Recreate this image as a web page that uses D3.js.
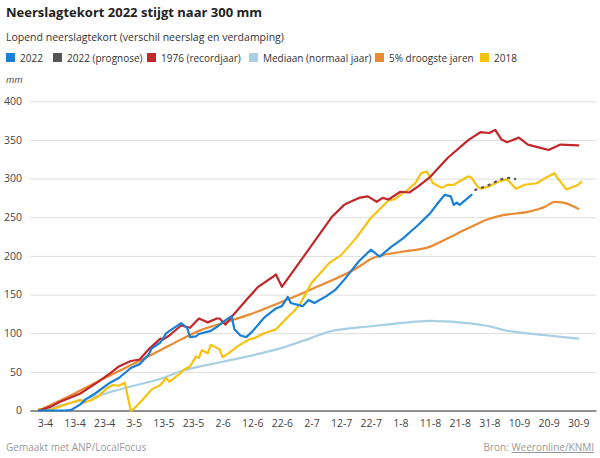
<!DOCTYPE html>
<html>
<head>
<meta charset="utf-8">
<script src="https://cdn.jsdelivr.net/npm/d3@7"></script>
<style>
  body { margin: 0; background: #fff; }
  svg text { font-family: "Open Sans", sans-serif; }
</style>
</head>
<body>
<div id="chart"></div>
<script>
// series: [dag-maand, mm]
const s2022 = [
  ["1-4",0],["5-4",0],["10-4",0],["12-4",1],["15-4",8],["17-4",15],["20-4",22],["25-4",36],
  ["28-4",42],["2-5",55],["5-5",60],["8-5",72],["9-5",80],["12-5",88],["14-5",100],["19-5",113],
  ["21-5",107],["22-5",95],["24-5",96],["25-5",99],["29-5",103],["31-5",108],["3-6",117],["5-6",122],
  ["6-6",105],["8-6",97],["10-6",95],["12-6",102],["16-6",120],["20-6",132],["22-6",135],["24-6",147],
  ["25-6",139],["29-6",135],["1-7",143],["3-7",139],["7-7",148],["10-7",156],["13-7",169],["18-7",193],
  ["22-7",208],["25-7",199],["29-7",212],["2-8",223],["4-8",230],["7-8",240],["11-8",255],["14-8",270],
  ["16-8",279],["18-8",277],["19-8",266],["20-8",269],["21-8",266],["25-8",279]
];
const sPrognose = [["26-8",285],["31-8",292],["4-9",299],["7-9",301],["9-9",299]];
const s1976 = [
  ["1-4",0],["5-4",5],["8-4",11],["15-4",22],["21-4",37],["25-4",48],["28-4",57],["2-5",64],
  ["5-5",66],["8-5",79],["12-5",93],["13-5",92],["15-5",97],["19-5",110],["22-5",107],["25-5",119],
  ["28-5",114],["31-5",119],["1-6",119],["3-6",111],["5-6",121],["10-6",143],["14-6",160],["19-6",173],
  ["20-6",176],["22-6",160],["1-7",208],["9-7",251],["13-7",266],["14-7",268],["18-7",275],["21-7",277],
  ["24-7",270],["26-7",275],["28-7",273],["1-8",283],["4-8",282],["7-8",290],["11-8",302],["17-8",327],
  ["24-8",350],["28-8",360],["31-8",359],["2-9",363],["4-9",351],["6-9",347],["10-9",353],["13-9",344],
  ["17-9",340],["20-9",337],["24-9",344],["30-9",343]
];
const sMediaan = [
  ["1-4",0],["15-4",13],["1-5",30],["12-5",41],["20-5",52],["2-6",63],["22-6",81],["2-7",94],
  ["8-7",102],["22-7",109],["1-8",113],["11-8",116],["21-8",114],["31-8",109],["5-9",104],["10-9",101],
  ["20-9",97],["30-9",93]
];
const sDroog = [
  ["1-4",0],["11-4",18],["20-4",36],["28-4",51],["9-5",72],["12-5",78],["19-5",92],["25-5",103],
  ["1-6",112],["11-6",124],["21-6",139],["2-7",157],["18-7",186],["22-7",196],["26-7",201],["1-8",205],
  ["11-8",212],["16-8",221],["24-8",236],["31-8",248],["5-9",253],["13-9",257],["19-9",264],["22-9",270],
  ["25-9",269],["30-9",261]
];
const s2018 = [
  ["1-4",2],["3-4",0],["5-4",1],["8-4",5],["11-4",9],["15-4",14],["16-4",10],["19-4",14],["21-4",18],
  ["24-4",29],["26-4",33],["28-4",32],["30-4",36],["2-5",0],["3-5",2],["6-5",14],["9-5",27],["12-5",33],
  ["14-5",42],["15-5",37],["19-5",49],["20-5",53],["22-5",57],["24-5",70],["25-5",68],["26-5",78],
  ["28-5",74],["29-5",85],["31-5",81],["1-6",79],["2-6",69],["4-6",74],["7-6",83],["11-6",92],["13-6",94],
  ["16-6",100],["20-6",105],["22-6",113],["24-6",121],["26-6",128],["28-6",137],["1-7",158],["2-7",165],
  ["8-7",191],["12-7",201],["17-7",223],["22-7",249],["28-7",272],["30-7",273],["3-8",284],["6-8",294],
  ["8-8",307],["10-8",309],["12-8",294],["13-8",292],["15-8",288],["17-8",292],["19-8",292],["24-8",303],
  ["25-8",301],["27-8",290],["28-8",287],["31-8",290],["3-9",296],["6-9",299],["9-9",287],["12-9",292],
  ["16-9",294],["19-9",301],["22-9",307],["23-9",301],["26-9",286],["30-9",292],["1-10",296]
];

const legendLabels = ["2022","2022 (prognose)","1976 (recordjaar)","Mediaan (normaal jaar)","5% droogste jaren","2018"];
const legendColors = ["#1a7fd6","#555555","#c0282c","#a8cfe2","#ea8a33","#f7c20f"];
const xTicks = ["3-4","13-4","23-4","3-5","13-5","23-5","2-6","12-6","22-6","2-7","12-7","22-7","1-8","11-8","21-8","31-8","10-9","20-9","30-9"];
const yTicks = [0,50,100,150,200,250,300,350,400];

const parse = s => { const [d,m] = s.split("-").map(Number); return new Date(2022, m-1, d); };

const W = 600, H = 458;
const svg = d3.select("#chart").append("svg").attr("width", W).attr("height", H);

const x = d3.scaleTime()
  .domain([new Date(2022,2,29), new Date(2022,9,6)])
  .range([30, 596]);
const y = d3.scaleLinear().domain([0,400]).range([410.5, 101.3]);

// titel
svg.append("text").attr("x", 6).attr("y", 17)
  .attr("font-size", 13).attr("font-weight", 700).attr("fill", "#222")
  .text("Neerslagtekort 2022 stijgt naar 300 mm");
svg.append("text").attr("x", 6).attr("y", 41)
  .attr("font-size", 10.5).attr("fill", "#333")
  .text("Lopend neerslagtekort (verschil neerslag en verdamping)");

// legenda
const legendX = [6, 53, 147, 249, 375, 480];
const lg = svg.append("g");
legendLabels.forEach((l, i) => {
  lg.append("rect").attr("x", legendX[i]).attr("y", 53).attr("width", 9).attr("height", 9)
    .attr("fill", legendColors[i]);
  lg.append("text").attr("x", legendX[i] + 14).attr("y", 61.5)
    .attr("font-size", 10).attr("fill", "#333").text(l);
});

svg.append("text").attr("x", 6).attr("y", 83)
  .attr("font-size", 9.5).attr("font-style", "italic").attr("fill", "#444").text("mm");

// grid + y-as
const yAxis = d3.axisLeft(y).tickValues(yTicks).tickSize(-566).tickPadding(8);
svg.append("g").attr("transform", "translate(30,0)").call(yAxis)
  .call(g => g.select(".domain").remove())
  .call(g => g.selectAll(".tick line").attr("stroke", "#dddddd"))
  .call(g => g.selectAll(".tick text").attr("font-size", 10.5).attr("fill", "#444")
    .attr("font-family", "Open Sans, sans-serif"));

// x-as
const xAxis = d3.axisBottom(x).tickValues(xTicks.map(parse))
  .tickFormat(d3.timeFormat("%-d-%-m")).tickSize(0).tickPadding(9);
svg.append("g").attr("transform", `translate(0,${y(0)})`).call(xAxis)
  .call(g => g.select(".domain").attr("stroke", "#333").attr("stroke-width", 1.2))
  .call(g => g.selectAll(".tick text").attr("font-size", 10.5).attr("fill", "#444")
    .attr("font-family", "Open Sans, sans-serif"));

const line = d3.line().x(d => x(parse(d[0]))).y(d => y(d[1]));
const smooth = d3.line().x(d => x(parse(d[0]))).y(d => y(d[1])).curve(d3.curveMonotoneX);

const series = [
  { data: sMediaan, color: legendColors[3], gen: smooth },
  { data: sDroog, color: legendColors[4], gen: smooth },
  { data: s2018, color: legendColors[5], gen: line },
  { data: s1976, color: legendColors[2], gen: line },
  { data: s2022, color: legendColors[0], gen: line },
  { data: sPrognose, color: legendColors[1], gen: smooth, dash: "3,4" }
];
series.forEach(s => {
  svg.append("path").datum(s.data)
    .attr("d", s.gen)
    .attr("fill", "none")
    .attr("stroke", s.color)
    .attr("stroke-width", 2.2)
    .attr("stroke-linejoin", "round")
    .attr("stroke-linecap", s.dash ? "butt" : "round")
    .attr("stroke-dasharray", s.dash || null);
});

// voet
svg.append("text").attr("x", 6).attr("y", 451)
  .attr("font-size", 10).attr("fill", "#999").text("Gemaakt met ANP/LocalFocus");
const bron = svg.append("text").attr("x", 594).attr("y", 451).attr("text-anchor", "end")
  .attr("font-size", 10).attr("fill", "#999");
bron.append("tspan").text("Bron: ");
bron.append("tspan").attr("text-decoration", "underline").text("Weeronline/KNMI");
</script>
</body>
</html>
